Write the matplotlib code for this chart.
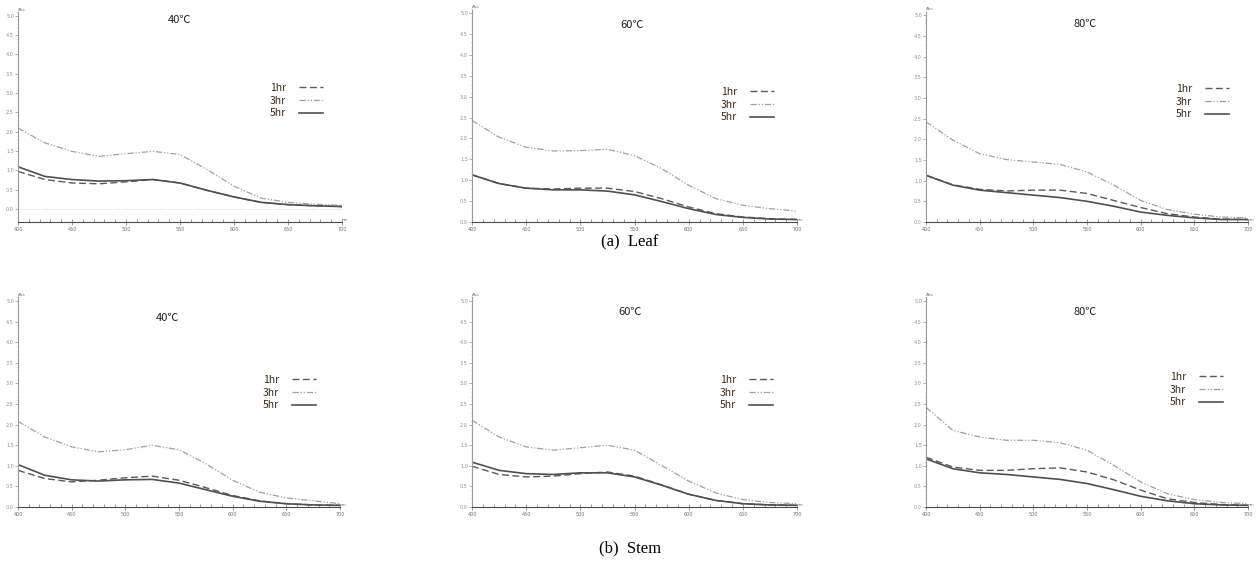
import numpy as np
import matplotlib
matplotlib.use("Agg")
import matplotlib.pyplot as plt
from matplotlib.ticker import MultipleLocator, FormatStrFormatter

# wavelength (nm)
wl = [400, 425, 450, 475, 500, 525, 550, 575, 600, 625, 650, 675, 700]

# absorbance readings, leaf
leaf_40_1hr = [0.97, 0.76, 0.67, 0.65, 0.70, 0.76, 0.67, 0.48, 0.31, 0.17, 0.11, 0.08, 0.06]
leaf_40_3hr = [2.09, 1.71, 1.49, 1.36, 1.43, 1.49, 1.41, 1.02, 0.59, 0.28, 0.17, 0.12, 0.09]
leaf_40_5hr = [1.09, 0.84, 0.76, 0.72, 0.73, 0.76, 0.67, 0.48, 0.31, 0.17, 0.11, 0.08, 0.06]
leaf_60_1hr = [1.13, 0.92, 0.81, 0.79, 0.81, 0.81, 0.73, 0.56, 0.36, 0.20, 0.12, 0.08, 0.06]
leaf_60_3hr = [2.43, 2.03, 1.79, 1.70, 1.71, 1.74, 1.59, 1.28, 0.88, 0.56, 0.40, 0.32, 0.26]
leaf_60_5hr = [1.13, 0.92, 0.81, 0.77, 0.77, 0.74, 0.65, 0.49, 0.32, 0.18, 0.11, 0.07, 0.06]
leaf_80_1hr = [1.13, 0.90, 0.79, 0.75, 0.77, 0.77, 0.69, 0.52, 0.35, 0.20, 0.12, 0.07, 0.06]
leaf_80_3hr = [2.42, 1.98, 1.65, 1.51, 1.45, 1.39, 1.21, 0.89, 0.52, 0.30, 0.19, 0.12, 0.10]
leaf_80_5hr = [1.13, 0.89, 0.77, 0.71, 0.65, 0.59, 0.50, 0.38, 0.24, 0.16, 0.10, 0.06, 0.06]

# absorbance readings, stem
stem_40_1hr = [0.89, 0.69, 0.61, 0.65, 0.71, 0.75, 0.65, 0.47, 0.28, 0.15, 0.08, 0.05, 0.04]
stem_40_3hr = [2.08, 1.70, 1.46, 1.34, 1.39, 1.50, 1.39, 1.05, 0.65, 0.36, 0.22, 0.15, 0.08]
stem_40_5hr = [1.03, 0.77, 0.66, 0.63, 0.66, 0.67, 0.58, 0.42, 0.26, 0.14, 0.08, 0.05, 0.04]
stem_60_1hr = [0.99, 0.79, 0.73, 0.75, 0.81, 0.85, 0.75, 0.54, 0.31, 0.16, 0.08, 0.05, 0.04]
stem_60_3hr = [2.11, 1.70, 1.46, 1.38, 1.44, 1.50, 1.38, 1.01, 0.63, 0.34, 0.18, 0.11, 0.08]
stem_60_5hr = [1.09, 0.89, 0.81, 0.79, 0.83, 0.83, 0.73, 0.53, 0.31, 0.16, 0.08, 0.05, 0.04]
stem_80_1hr = [1.21, 0.97, 0.89, 0.89, 0.93, 0.95, 0.85, 0.66, 0.41, 0.20, 0.11, 0.06, 0.04]
stem_80_3hr = [2.42, 1.86, 1.70, 1.62, 1.62, 1.56, 1.38, 1.01, 0.61, 0.32, 0.18, 0.11, 0.08]
stem_80_5hr = [1.17, 0.93, 0.83, 0.79, 0.73, 0.67, 0.57, 0.42, 0.26, 0.15, 0.08, 0.05, 0.04]

temps = ["40℃", "60℃", "80℃"]
times = ["1hr", "3hr", "5hr"]
captions = ["(a)  Leaf", "(b)  Stem"]

rows = [
    [(leaf_40_1hr, leaf_40_3hr, leaf_40_5hr),
     (leaf_60_1hr, leaf_60_3hr, leaf_60_5hr),
     (leaf_80_1hr, leaf_80_3hr, leaf_80_5hr)],
    [(stem_40_1hr, stem_40_3hr, stem_40_5hr),
     (stem_60_1hr, stem_60_3hr, stem_60_5hr),
     (stem_80_1hr, stem_80_3hr, stem_80_5hr)],
]

W, H = 1259, 564
fig = plt.figure(figsize=(W / 100, H / 100), dpi=100)
fig.patch.set_facecolor("white")

# pixel boxes: left, right, top, bottom (bottom = x-axis line)
boxes = [
    [(18, 342, 12, 222), (472, 797, 9, 222), (926, 1248, 11, 222)],
    [(18, 340, 297, 507), (472, 797, 297, 507), (926, 1248, 297, 507)],
]
ylows = [[-0.34, 0, 0], [0, 0, 0]]
title_pos = [[(180, 20), (632, 25), (1085, 24)], [(168, 318), (630, 312), (1085, 312)]]
leg_pos = [[(270, 83), (721, 87), (1176, 84)], [(263, 375), (720, 375), (1170, 372)]]
caption_pos = [(630, 242), (630, 548)]

styles = [
    dict(color="#5a5a5a", lw=1.0, linestyle=(0, (5, 2.5))),
    dict(color="#a0a0a0", lw=0.9, linestyle=(0, (5, 1.5, 1, 1.5, 1, 1.5))),
    dict(color="#505050", lw=1.2, linestyle="-"),
]
cjk = ["Noto Sans CJK KR", "DejaVu Sans"]

for r in range(2):
    for c in range(3):
        l, rr, t, b = boxes[r][c]
        ax = fig.add_axes([l / W, 1 - b / H, (rr - l) / W, (b - t) / H])
        ylo = ylows[r][c]
        handles = []
        for k in range(3):
            ln, = ax.plot(wl, rows[r][c][k], label=times[k], **styles[k])
            handles.append(ln)
        if ylo < 0:
            ax.axhline(0, color="#d9d2b8", lw=0.7, linestyle=":")
        ax.set_xlim(400, 700)
        ax.set_ylim(ylo, 5.1)
        for s in ["top", "right"]:
            ax.spines[s].set_visible(False)
        ax.spines["left"].set_color("#9a9a9a")
        ax.spines["left"].set_linestyle((0, (1, 1)))
        ax.spines["left"].set_linewidth(0.8)
        ax.spines["bottom"].set_color("#4a4a4a")
        ax.spines["bottom"].set_linewidth(0.8)
        ax.xaxis.set_major_locator(MultipleLocator(50))
        ax.xaxis.set_minor_locator(MultipleLocator(10))
        ax.yaxis.set_major_locator(MultipleLocator(0.5))
        ax.yaxis.set_minor_locator(MultipleLocator(0.1))
        ax.yaxis.set_major_formatter(FormatStrFormatter("%.1f"))
        ax.set_yticks([v for v in np.arange(0, 5.01, 0.5)])
        ax.tick_params(axis="x", which="major", direction="inout", length=4, width=0.5,
                       colors="#707070", labelsize=3.5, pad=1.5)
        ax.tick_params(axis="x", which="minor", direction="in", length=2.5, width=0.5, colors="#707070")
        ax.tick_params(axis="y", which="major", direction="out", length=2, width=0.5,
                       colors="#909090", labelsize=3.5, pad=1)
        ax.tick_params(axis="y", which="minor", direction="out", length=1, width=0.4, colors="#b0b0b0")
        ax.text(0.0, 1.0, "Abs", transform=ax.transAxes, fontsize=3, color="#707070",
                ha="left", va="bottom")
        ax.text(1.0, 0.0, "nm", transform=ax.transAxes, fontsize=3, color="#707070",
                ha="left", va="bottom")

        tx, ty = title_pos[r][c]
        fig.text(tx / W, 1 - ty / H, temps[c], ha="center", va="center",
                 fontsize=8, family=cjk, color="#222222")

        lx, ly = leg_pos[r][c]
        leg = ax.legend(handles=handles, loc="upper left",
                        bbox_to_anchor=(lx / W, 1 - ly / H), bbox_transform=fig.transFigure,
                        frameon=False, markerfirst=False, fontsize=7.5,
                        handlelength=2.3, handletextpad=1.2, labelspacing=0.25,
                        borderpad=0, borderaxespad=0)
        for txt in leg.get_texts():
            txt.set_color("#3a2a1a")
            txt.set_family(cjk)

for i, cap in enumerate(captions):
    cx, cy = caption_pos[i]
    fig.text(cx / W, 1 - cy / H, cap, ha="center", va="center",
             fontsize=12, family="Liberation Serif", color="black")

fig.savefig("out.png", dpi=100)
plt.close("all")
